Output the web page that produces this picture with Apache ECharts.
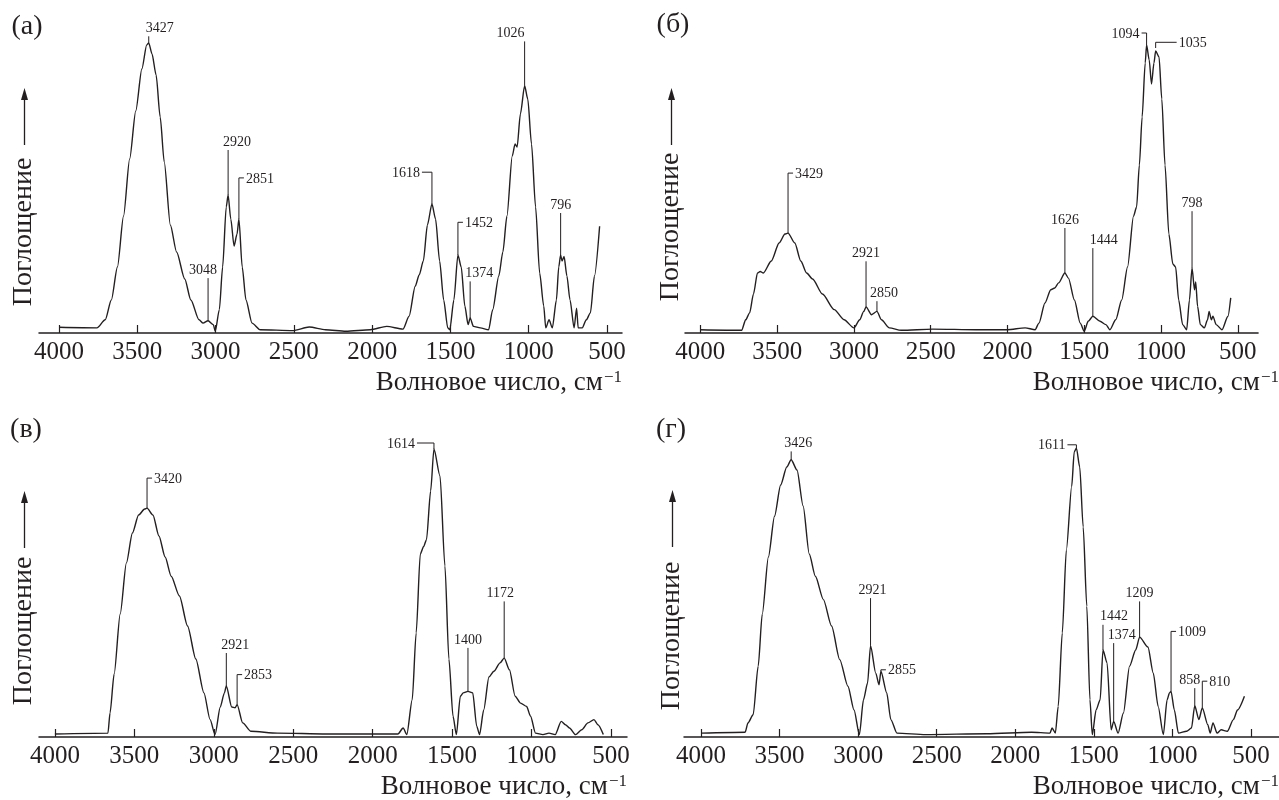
<!DOCTYPE html>
<html>
<head>
<meta charset="utf-8">
<script src="https://cdn.jsdelivr.net/npm/echarts@6/dist/echarts.min.js"></script>
<style>
  html, body { margin: 0; padding: 0; background: #fff; }
  #chart { width: 1279px; height: 800px; }
</style>
</head>
<body>
<div id="chart"></div>
<script>
// ИК-спектры: волновое число (см-1) и поглощение (отн. ед., 0..100)
const tickValues = [4000, 3500, 3000, 2500, 2000, 1500, 1000, 500]

// (а)
const waveA = [4000, 3758, 3705, 3666, 3627, 3588, 3549, 3510, 3471, 3440, 3427, 3406, 3380, 3354, 3328, 3289, 3249, 3197, 3158, 3106, 3080, 3048, 3015, 3002, 2976, 2955, 2932, 2920, 2903, 2882, 2863, 2851, 2830, 2806, 2767, 2715, 2507, 2402, 2298, 2168, 2011, 1907, 1803, 1764, 1725, 1699, 1673, 1647, 1618, 1595, 1569, 1543, 1517, 1504, 1478, 1452, 1431, 1408, 1387, 1374, 1353, 1309, 1256, 1230, 1191, 1165, 1139, 1105, 1087, 1074, 1053, 1026, 1006, 982, 956, 930, 904, 891, 870, 849, 823, 808, 796, 787, 774, 756, 736, 710, 694, 684, 658, 632, 606, 580, 547]
const absA = [1.9, 1.7, 4.4, 11, 22, 39, 58, 74, 88, 96, 96.7, 93, 86, 72, 57, 36, 27, 18, 11, 4.4, 3.3, 4.1, 2.8, 0.6, 7.8, 22, 42, 46, 38, 29, 33, 38, 22, 11, 3.3, 1.1, 0.8, 2, 1.1, 0.6, 1.1, 2.2, 1.3, 5.6, 15.6, 19.4, 24, 36, 43, 38, 24, 11, 1.7, 1.1, 11, 26, 22, 9, 2.8, 5, 2.2, 1.7, 1.1, 7.8, 19, 27, 39, 59, 63, 62, 73, 82.4, 78, 63, 42, 20, 9, 1.7, 4.4, 1.7, 11, 22, 26, 24, 25.5, 19, 11, 1.7, 8.3, 1.7, 1.7, 4.4, 6.7, 19, 35.6]
const peaksA = [3427, 3048, 2920, 2851, 1618, 1452, 1374, 1026, 796]
const peakTopA = [96.7, 4.1, 46, 38, 43, 26, 5, 82.4, 26]
const labelLevelA = [98.9, 18.3, 61, 51.7, 53.6, 36.9, 17.2, 97.2, 40]
const labelSideA = ['top', 'top', 'top', 'right', 'left', 'right', 'top', 'top', 'top']

// (б)
const waveB = [4000, 3731, 3705, 3679, 3654, 3628, 3610, 3590, 3538, 3487, 3449, 3429, 3385, 3346, 3308, 3269, 3205, 3128, 3064, 3000, 2962, 2936, 2921, 2885, 2850, 2821, 2769, 2692, 2487, 2205, 2000, 1885, 1820, 1795, 1756, 1718, 1692, 1667, 1626, 1603, 1564, 1526, 1500, 1474, 1444, 1397, 1359, 1333, 1295, 1256, 1218, 1179, 1159, 1141, 1123, 1103, 1094, 1077, 1062, 1046, 1035, 1013, 995, 974, 949, 923, 905, 885, 859, 833, 815, 798, 782, 774, 762, 744, 718, 697, 687, 672, 662, 641, 603, 564, 546]
const absB = [1.1, 0.9, 4.4, 6.7, 13, 20, 20.5, 20, 24, 30, 33, 33.3, 30, 24, 20, 18, 13, 7.8, 4.4, 1.7, 4.4, 7.2, 8.7, 6.1, 7.2, 4.4, 1.7, 0.9, 1.3, 1.1, 1.1, 1.7, 1.1, 3.3, 10, 14.4, 15, 16.7, 20, 18.3, 11, 3.3, 0.6, 3.9, 5.6, 3.9, 2.8, 1.1, 4.4, 11, 22, 39, 42, 56, 72, 90, 96, 91, 83, 90, 94, 92, 78, 56, 33, 23, 22, 11, 2.8, 1.1, 11, 21.7, 14.4, 17, 8.9, 2.8, 1.7, 4.4, 7.2, 4.4, 5.6, 2.8, 1.1, 5.6, 11.7]
const peaksB = [3429, 2921, 2850, 1626, 1444, 1094, 1035, 798]
const peakTopB = [33.3, 8.7, 7.2, 20, 5.6, 96, 95, 21.7]
const labelLevelB = [53.3, 23.9, 10.6, 35, 28.3, 100, 96.9, 40.6]
const labelSideB = ['right', 'top', 'top', 'top', 'top', 'left', 'right', 'top']

// (в)
const waveC = [4000, 3666, 3653, 3627, 3589, 3550, 3512, 3473, 3435, 3420, 3383, 3345, 3306, 3268, 3216, 3165, 3113, 3062, 3023, 2992, 2959, 2933, 2921, 2887, 2866, 2853, 2818, 2766, 2599, 2291, 1841, 1808, 1785, 1751, 1726, 1700, 1679, 1661, 1635, 1614, 1576, 1545, 1520, 1494, 1473, 1448, 1430, 1400, 1370, 1345, 1327, 1301, 1268, 1237, 1198, 1172, 1139, 1103, 1069, 1031, 1006, 975, 928, 890, 851, 813, 787, 761, 723, 684, 645, 607, 582, 548]
const absC = [1, 1.3, 8, 21, 41, 58, 68, 74, 76, 76.3, 74, 67, 60, 53.6, 47, 37, 26, 14.7, 5.8, 0.8, 10, 14.7, 17, 10, 9.7, 10.8, 4.7, 1.9, 1.3, 1, 1, 3, 0.8, 12.4, 34.7, 61, 63.5, 65.8, 82, 96, 87, 57, 26, 6.9, 0.8, 13.6, 14.7, 15.2, 14.7, 3.6, 0.8, 9, 20, 21.9, 24.7, 26.3, 22.4, 13.6, 11.3, 10.2, 6.9, 1.3, 0.8, 1.3, 0.8, 5.2, 4.1, 3, 0.8, 2.4, 4.7, 5.8, 4.1, 0.8]
const peaksC = [3420, 2921, 2853, 1614, 1400, 1172]
const peakTopC = [76.3, 17, 10.8, 96, 15.2, 26.3]
const labelLevelC = [86.3, 28, 20.8, 98, 29.7, 45.2]
const labelSideC = ['right', 'top', 'right', 'left', 'top', 'top']

// (г)
const waveD = [4000, 3719, 3701, 3668, 3636, 3610, 3571, 3532, 3493, 3454, 3426, 3389, 3350, 3311, 3272, 3221, 3169, 3117, 3065, 3026, 2992, 2966, 2940, 2921, 2888, 2867, 2855, 2818, 2792, 2753, 2571, 2181, 1896, 1779, 1766, 1745, 1727, 1701, 1675, 1641, 1625, 1611, 1590, 1568, 1545, 1525, 1510, 1486, 1460, 1442, 1416, 1390, 1374, 1346, 1312, 1273, 1234, 1209, 1156, 1122, 1091, 1058, 1034, 1019, 1009, 988, 962, 910, 879, 858, 832, 810, 775, 760, 742, 716, 690, 651, 612, 586, 542]
const absD = [1.3, 1.6, 4.7, 7.4, 23.6, 41, 60, 73.6, 84, 90, 92.4, 89, 77, 61, 53.6, 45.8, 37, 25.8, 16.9, 9, 0.8, 12.4, 18, 30.4, 21.3, 17.4, 21.9, 14.7, 5.8, 1.3, 0.8, 1.1, 1.6, 1.3, 3, 1.3, 10.2, 34.7, 62.4, 83.6, 95, 96.3, 90, 70, 43.6, 12.4, 0.8, 9, 12.4, 29, 24.7, 2.4, 5.2, 1.3, 8, 23.6, 29, 33.3, 30, 21.3, 10.2, 0.8, 12.4, 14.7, 15.2, 9, 1.3, 1.9, 3, 10.4, 5.8, 9.7, 4.1, 1.3, 4.7, 1.3, 2.4, 1.9, 5.8, 9, 13.6]
const peaksD = [3426, 2921, 2855, 1611, 1442, 1374, 1209, 1009, 858, 810]
const peakTopD = [92.4, 30.4, 21.9, 96.3, 29, 5.2, 33.3, 15.2, 10.4, 9.7]
const labelLevelD = [95.2, 46.3, 22.4, 97.4, 37.4, 31.3, 45.2, 35.2, 16.3, 18.6]
const labelSideD = ['top', 'top', 'right', 'left', 'top', 'top', 'top', 'right', 'top', 'right']

// оформление
const ink = '#231f20'
const serif = '"Liberation Serif", "DejaVu Serif", serif'
// сдвиг подписи по горизонтали (px) и длина "крючка" у выносок
const labelShift = { 'a3427': 11, 'a3048': -5, 'a2920': 9, 'a1374': 9, 'a1026': -14, 'b2850': 7, 'b1444': 11,
  'c2921': 9, 'c1172': -4, 'd3426': 7, 'd2921': 2, 'd1442': 11, 'd1374': 8, 'd858': -5 }
const hookLen = { 'a1618': 10, 'b1035': 21, 'b1094': 5, 'c1614': 17, 'd1611': 9 }

const panels = [
  { key: 'a', title: '(а)', wave: waveA, abs: absA, peaks: peaksA, tops: peakTopA, levels: labelLevelA, sides: labelSideA,
    min: 404, max: 4128, left: 39, width: 583, axisY: 333, titleX: 27, titleY: 27, yLabX: 24, yLabY: 232, arrowTop: 88 },
  { key: 'b', title: '(б)', wave: waveB, abs: absB, peaks: peaksB, tops: peakTopB, levels: labelLevelB, sides: labelSideB,
    min: 368, max: 4100, left: 685, width: 594, axisY: 333, titleX: 673, titleY: 25, yLabX: 671, yLabY: 227, arrowTop: 88 },
  { key: 'c', title: '(в)', wave: waveC, abs: absC, peaks: peaksC, tops: peakTopC, levels: labelLevelC, sides: labelSideC,
    min: 399, max: 4100, left: 39, width: 588, axisY: 737, titleX: 26, titleY: 430, yLabX: 24, yLabY: 631, arrowTop: 491 },
  { key: 'd', title: '(г)', wave: waveD, abs: absD, peaks: peaksD, tops: peakTopD, levels: labelLevelD, sides: labelSideD,
    min: 322, max: 4108, left: 684, width: 595, axisY: 737, titleX: 671, titleY: 430, yLabX: 672, yLabY: 636, arrowTop: 490 }
]

// выноски пиков
function peakRenderer(p) {
  return function (params, api) {
    const i = params.dataIndex
    const side = p.sides[i]
    const id = p.key + p.peaks[i]
    const p0 = api.coord([api.value(0), api.value(1)])
    const p1 = api.coord([api.value(0), api.value(2)])
    const lineStyle = { stroke: ink, lineWidth: 1 }
    const children = [{ type: 'line', shape: { x1: p0[0], y1: p0[1], x2: p1[0], y2: p1[1] }, style: lineStyle }]
    const font = '14px ' + serif
    if (side === 'top') {
      children.push({ type: 'text', style: { text: String(p.peaks[i]), x: p1[0] + (labelShift[id] || 0), y: p1[1] - 1,
        align: 'center', verticalAlign: 'bottom', font: font, fill: ink } })
    } else {
      const dir = side === 'right' ? 1 : -1
      const len = hookLen[id] || (side === 'right' ? 5 : 9)
      const hx = p1[0] + dir * len
      children.push({ type: 'line', shape: { x1: p1[0], y1: p1[1], x2: hx, y2: p1[1] }, style: lineStyle })
      children.push({ type: 'text', style: { text: String(p.peaks[i]), x: hx + dir * 2, y: p1[1] + 1,
        align: side === 'right' ? 'left' : 'right', verticalAlign: 'middle', font: font, fill: ink } })
    }
    return { type: 'group', children: children }
  }
}

const grid = [], xAxis = [], yAxis = [], series = [], graphic = []
panels.forEach((p, k) => {
  grid.push({ left: p.left, top: p.axisY - 300, width: p.width, height: 300 })
  xAxis.push({
    type: 'value', gridIndex: k, inverse: true, min: p.min, max: p.max,
    axisLine: { show: true, lineStyle: { color: ink, width: 1.5 } },
    axisTick: { show: true, inside: true, length: 8, customValues: tickValues, lineStyle: { color: ink, width: 1.2 } },
    axisLabel: { show: true, customValues: tickValues, formatter: v => String(v), margin: 7, fontSize: 25, fontFamily: serif, color: ink },
    splitLine: { show: false }
  })
  yAxis.push({ type: 'value', gridIndex: k, min: 0, max: 100, show: false })
  series.push({
    type: 'line', xAxisIndex: k, yAxisIndex: k,
    data: p.wave.map((w, j) => [w, p.abs[j]]),
    showSymbol: false, smooth: 0.25, smoothMonotone: 'x',
    lineStyle: { color: ink, width: 1.4 }, silent: true, animation: false
  })
  series.push({
    type: 'custom', xAxisIndex: k, yAxisIndex: k, clip: false, silent: true, animation: false,
    data: p.peaks.map((w, j) => [w, p.tops[j], p.levels[j]]),
    encode: { x: 0, y: [1, 2] },
    renderItem: peakRenderer(p)
  })
  // подпись панели
  graphic.push({ type: 'text', x: p.titleX, y: p.titleY,
    style: { text: p.title, font: '28px ' + serif, fill: ink, align: 'center', verticalAlign: 'middle' } })
  // ось ординат: «Поглощение» со стрелкой
  graphic.push({ type: 'text', x: p.yLabX, y: p.yLabY, rotation: Math.PI / 2,
    style: { text: 'Поглощение', font: '28px ' + serif, fill: ink, align: 'center', verticalAlign: 'middle' } })
  const ax = p.yLabX + 0.5
  graphic.push({ type: 'line', shape: { x1: ax, y1: p.arrowTop + 57, x2: ax, y2: p.arrowTop + 8 }, style: { stroke: ink, lineWidth: 1.3 } })
  graphic.push({ type: 'polygon', shape: { points: [[ax, p.arrowTop], [ax - 3.5, p.arrowTop + 12], [ax + 3.5, p.arrowTop + 12]] }, style: { fill: ink } })
  // название оси абсцисс
  graphic.push({ type: 'text', x: p.left + p.width, y: p.axisY + 50,
    style: { text: '{a|Волновое число, см}{s|−1}', align: 'right', verticalAlign: 'middle',
      rich: { a: { font: '27px ' + serif, fill: ink }, s: { font: '17px ' + serif, fill: ink, verticalAlign: 'top', padding: [0, 0, 10, 1] } } } })
})

const chart = echarts.init(document.getElementById('chart'), null, { renderer: 'canvas' })
chart.setOption({
  animation: false,
  backgroundColor: '#fff',
  grid: grid,
  xAxis: xAxis,
  yAxis: yAxis,
  series: series,
  graphic: graphic
})
</script>
</body>
</html>
